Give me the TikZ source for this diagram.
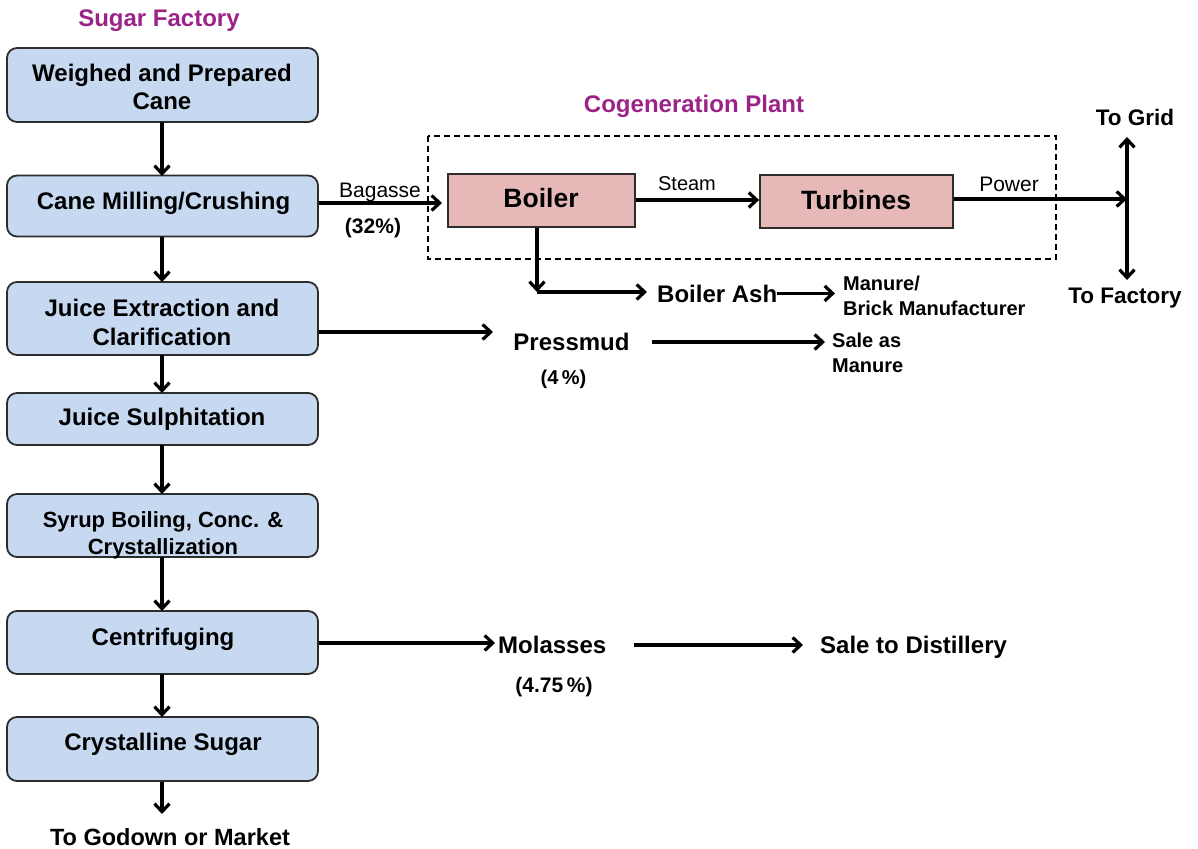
\documentclass[tikz,border=0pt]{standalone}
\usepackage{fontspec}
\setmainfont{Liberation Sans}
\usetikzlibrary{arrows.meta,calc}

\definecolor{boxblue}{RGB}{198,217,241}
\definecolor{boxpink}{RGB}{230,185,184}
\definecolor{headpurple}{RGB}{155,35,135}
\definecolor{edge}{RGB}{45,45,45}

\newcommand{\fsz}[1]{\fontsize{#1pt}{1.2\dimexpr#1pt\relax}\selectfont}

\begin{document}
\begin{tikzpicture}[x=1pt,y=-1pt,
  flowbox/.style={draw=edge, line width=1.8pt, fill=boxblue, rounded corners=10pt,
                  minimum width=311pt, inner sep=0pt},
  plantbox/.style={draw=edge, line width=1.8pt, fill=boxpink, inner sep=0pt},
  lbl/.style={inner sep=0pt, anchor=base, font=\bfseries\fsz{24}},
  thin lbl/.style={inner sep=0pt, anchor=base, font=\fsz{21}},
  head/.style={inner sep=0pt, anchor=base, text=headpurple, font=\bfseries\fsz{24}},
  arr/.style={line width=3.2pt, -{Straight Barb[length=8pt,width=15pt]}},
  dblarr/.style={line width=3.2pt, {Straight Barb[length=8pt,width=15pt]}-{Straight Barb[length=8pt,width=15pt]}}
]
\useasboundingbox (0,0) rectangle (1198,848);

% ---------- headings ----------
\node[head] (hsugar) at (159,27) {Sugar Factory};
\node[head] (hcogen) at (694,113) {Cogeneration Plant};

% ---------- sugar factory process column ----------
\node[flowbox, minimum height=74pt] (b1) at (162.5,85)  {};
\node[flowbox, minimum height=61pt] (b2) at (162.5,206) {};
\node[flowbox, minimum height=73pt] (b3) at (162.5,318.5) {};
\node[flowbox, minimum height=52pt] (b4) at (162.5,419) {};
\node[flowbox, minimum height=63pt] (b5) at (162.5,525.5) {};
\node[flowbox, minimum height=63pt] (b6) at (162.5,642.5) {};
\node[flowbox, minimum height=64pt] (b7) at (162.5,749) {};

\node[lbl] (t1a) at (162,82)  {Weighed and Prepared};
\node[lbl] (t1b) at (162,110) {Cane};
\node[lbl] (t2)  at (163.5,209) {Cane Milling/Crushing};
\node[lbl] (t3a) at (162,316) {Juice Extraction and};
\node[lbl] (t3b) at (162,345) {Clarification};
\node[lbl] (t4)  at (162,425) {Juice Sulphitation};
\node[lbl, font=\bfseries\fsz{22}] (t5a) at (163,527) {Syrup Boiling, Conc. \&};
\node[lbl, font=\bfseries\fsz{22}] (t5b) at (163,554) {Crystallization};
\node[lbl] (t6)  at (163,645) {Centrifuging};
\node[lbl] (t7)  at (163,750) {Crystalline Sugar};
\node[lbl, font=\bfseries\fsz{23.5}] (godown) at (170,845) {To Godown or Market};

\coordinate (out) at (162,814);
\draw[arr] (162,122) -- (162,176);
\draw[arr] (162,236.5) -- (162,282);
\draw[arr] (162,355) -- (162,393);
\draw[arr] (162,445) -- (162,494);
\draw[arr] (162,557) -- (162,611);
\draw[arr] (162,674) -- (162,717);
\draw[arr] (b7.south -| out) -- (out);

% ---------- cogeneration plant ----------
\draw[line width=1.5pt, dash pattern=on 6pt off 4pt] (428,136) rectangle (1056,259);

\node[plantbox, minimum width=187pt, minimum height=53pt] (boiler) at (541.5,200.5) {};
\node[plantbox, minimum width=193pt, minimum height=53pt] (turb)   at (856.5,201.5) {};
\node[lbl, font=\bfseries\fsz{26.5}] (tboiler) at (541,207) {Boiler};
\node[lbl, font=\bfseries\fsz{26.5}] (tturb)   at (856,209) {Turbines};

% bagasse feed
\coordinate (bagin) at (442,203);
\draw[arr] (b2.east |- bagin) -- (bagin);
\node[thin lbl] (bagasse) at (380,197) {Bagasse};
\node[lbl, font=\bfseries\fsz{21}] (bagpct) at (373,233) {(32\%)};

% steam and power
\draw[arr] (boiler.east |- 0,200) -- (turb.west |- 0,200);
\node[thin lbl, font=\fsz{20}] (steam) at (687,190) {Steam};
\coordinate (junc) at (1127,199);
\draw[arr] (turb.east |- junc) -- (junc);
\node[thin lbl] (power) at (1009,191) {Power};
\coordinate (gridend) at (1127,137);
\coordinate (factend) at (1127,280);
\draw[dblarr] (gridend) -- (factend);
\node[lbl, font=\bfseries\fsz{22.5}] (grid)    at (1135,125) {To Grid};
\node[lbl, font=\bfseries\fsz{22.5}] (factory) at (1125,303) {To Factory};

% boiler ash
\coordinate (ashcorner) at (537,292);
\draw[arr] (boiler.south -| ashcorner) -- (ashcorner);
\node[lbl, anchor=base west] (ash) at (657,302) {Boiler Ash};
\draw[arr, shorten >=10pt] (ashcorner) -- (ash.west |- ashcorner);
\node[lbl, anchor=base west, font=\bfseries\fsz{20}] (manure1) at (843,290) {Manure/};
\node[lbl, anchor=base west, font=\bfseries\fsz{20}] (brick)   at (843,315) {Brick Manufacturer};
\draw[arr, shorten >=8pt] (ash.east) -- (manure1.west |- ash.east);

% pressmud
\coordinate (pmin) at (493,332);
\draw[arr] (b3.east |- pmin) -- (pmin);
\node[lbl] (press) at (571.5,350) {Pressmud};
\node[lbl, font=\bfseries\fsz{20}] (presspct) at (563.5,384) {(4\,\%)};
\node[lbl, anchor=base west, font=\bfseries\fsz{20}] (sale1) at (832,347) {Sale as};
\node[lbl, anchor=base west, font=\bfseries\fsz{20}] (sale2) at (832,372) {Manure};
\coordinate (pmout) at (825,342);
\draw[arr, shorten <=80pt] (press.center |- pmout) -- (pmout);

% molasses
\node[lbl, anchor=base west] (mol) at (498,653) {Molasses};
\draw[arr, shorten >=3pt] (b6.east |- 0,643) -- (mol.west |- 0,643);
\node[lbl, font=\bfseries\fsz{21}] (molpct) at (554,692) {(4.75\,\%)};
\node[lbl, anchor=base west] (distil) at (820,653) {Sale to Distillery};
\draw[arr, shorten <=28pt, shorten >=17pt] (mol.east |- 0,645) -- (distil.west |- 0,645);
\end{tikzpicture}
\end{document}
